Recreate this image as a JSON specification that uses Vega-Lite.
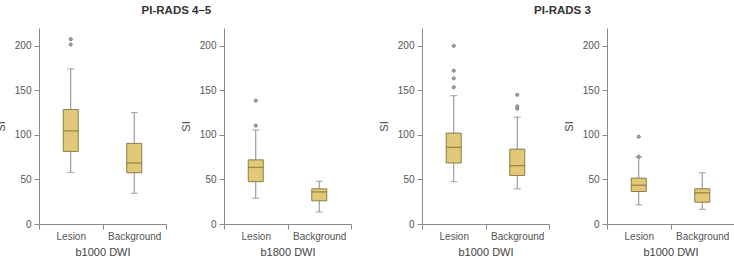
{
  "$schema": "https://vega.github.io/schema/vega-lite/v6.json",
  "padding": {"left": -5, "top": 4, "right": 0, "bottom": 0},
  "background": "white",
  "datasets": {
    "boxes": [
      {"panel": 1, "group": "Lesion", "lower": 58, "q1": 81.5, "median": 104.5, "q3": 128.5, "upper": 174},
      {"panel": 1, "group": "Background", "lower": 34.5, "q1": 57.5, "median": 68.5, "q3": 90.5, "upper": 125},
      {"panel": 2, "group": "Lesion", "lower": 29, "q1": 47.5, "median": 63.5, "q3": 72, "upper": 105.5},
      {"panel": 2, "group": "Background", "lower": 13.5, "q1": 26, "median": 36, "q3": 39.5, "upper": 48},
      {"panel": 3, "group": "Lesion", "lower": 47.5, "q1": 68.5, "median": 86, "q3": 102, "upper": 144},
      {"panel": 3, "group": "Background", "lower": 39.5, "q1": 54.5, "median": 65.5, "q3": 84, "upper": 120},
      {"panel": 4, "group": "Lesion", "lower": 21.5, "q1": 36.5, "median": 43.5, "q3": 51.5, "upper": 75},
      {"panel": 4, "group": "Background", "lower": 16.5, "q1": 24.5, "median": 35, "q3": 39.5, "upper": 57.5}
    ],
    "outliers": [
      {"panel": 1, "group": "Lesion", "SI": 201.5},
      {"panel": 1, "group": "Lesion", "SI": 207.5},
      {"panel": 2, "group": "Lesion", "SI": 110.5},
      {"panel": 2, "group": "Lesion", "SI": 138.5},
      {"panel": 3, "group": "Lesion", "SI": 153.5},
      {"panel": 3, "group": "Lesion", "SI": 163.5},
      {"panel": 3, "group": "Lesion", "SI": 172},
      {"panel": 3, "group": "Lesion", "SI": 200},
      {"panel": 3, "group": "Background", "SI": 129.5},
      {"panel": 3, "group": "Background", "SI": 132},
      {"panel": 3, "group": "Background", "SI": 145},
      {"panel": 4, "group": "Lesion", "SI": 75.5},
      {"panel": 4, "group": "Lesion", "SI": 98}
    ]
  },
  "spacing": 26,
  "hconcat": [
    {
      "title": {"text": "PI-RADS 4–5", "dx": 3},
      "spacing": 13,
      "hconcat": [
        {
          "width": 127, "height": 196,
          "layer": [
            {"data": {"name": "boxes"}, "transform": [{"filter": "datum.panel == 1"}], "mark": {"type": "rule", "color": "#8a8a8a", "strokeWidth": 1},
             "encoding": {"x": {"field": "group", "type": "nominal", "sort": ["Lesion", "Background"], "scale": {"paddingInner": 0, "paddingOuter": 0}, "axis": {"title": "b1000 DWI"}},
                          "y": {"field": "lower", "type": "quantitative", "scale": {"domain": [0, 220], "nice": false}, "axis": {"title": "SI", "values": [0, 50, 100, 150, 200]}}, "y2": {"field": "upper"}}},
            {"data": {"name": "boxes"}, "transform": [{"filter": "datum.panel == 1"}], "mark": {"type": "tick", "color": "#7a7a7a", "size": 7, "thickness": 1},
             "encoding": {"x": {"field": "group", "type": "nominal", "sort": ["Lesion", "Background"]}, "y": {"field": "lower", "type": "quantitative"}}},
            {"data": {"name": "boxes"}, "transform": [{"filter": "datum.panel == 1"}], "mark": {"type": "tick", "color": "#7a7a7a", "size": 7, "thickness": 1},
             "encoding": {"x": {"field": "group", "type": "nominal", "sort": ["Lesion", "Background"]}, "y": {"field": "upper", "type": "quantitative"}}},
            {"data": {"name": "boxes"}, "transform": [{"filter": "datum.panel == 1"}], "mark": {"type": "bar", "size": 15, "fill": "#e2c977", "stroke": "#8c7d4a", "strokeWidth": 1},
             "encoding": {"x": {"field": "group", "type": "nominal", "sort": ["Lesion", "Background"]}, "y": {"field": "q1", "type": "quantitative"}, "y2": {"field": "q3"}}},
            {"data": {"name": "boxes"}, "transform": [{"filter": "datum.panel == 1"}], "mark": {"type": "tick", "color": "#7d6a35", "size": 15, "thickness": 1.3},
             "encoding": {"x": {"field": "group", "type": "nominal", "sort": ["Lesion", "Background"]}, "y": {"field": "median", "type": "quantitative"}}},
            {"data": {"name": "outliers"}, "transform": [{"filter": "datum.panel == 1"}], "mark": {"type": "point", "filled": true, "size": 10, "fill": "#a8a8a8", "stroke": "#707070", "strokeWidth": 0.8, "opacity": 1},
             "encoding": {"x": {"field": "group", "type": "nominal", "sort": ["Lesion", "Background"]}, "y": {"field": "SI", "type": "quantitative"}}}
          ]
        },
        {
          "width": 127, "height": 196,
          "layer": [
            {"data": {"name": "boxes"}, "transform": [{"filter": "datum.panel == 2"}], "mark": {"type": "rule", "color": "#8a8a8a", "strokeWidth": 1},
             "encoding": {"x": {"field": "group", "type": "nominal", "sort": ["Lesion", "Background"], "scale": {"paddingInner": 0, "paddingOuter": 0}, "axis": {"title": "b1800 DWI"}},
                          "y": {"field": "lower", "type": "quantitative", "scale": {"domain": [0, 220], "nice": false}, "axis": {"title": "SI", "values": [0, 50, 100, 150, 200]}}, "y2": {"field": "upper"}}},
            {"data": {"name": "boxes"}, "transform": [{"filter": "datum.panel == 2"}], "mark": {"type": "tick", "color": "#7a7a7a", "size": 7, "thickness": 1},
             "encoding": {"x": {"field": "group", "type": "nominal", "sort": ["Lesion", "Background"]}, "y": {"field": "lower", "type": "quantitative"}}},
            {"data": {"name": "boxes"}, "transform": [{"filter": "datum.panel == 2"}], "mark": {"type": "tick", "color": "#7a7a7a", "size": 7, "thickness": 1},
             "encoding": {"x": {"field": "group", "type": "nominal", "sort": ["Lesion", "Background"]}, "y": {"field": "upper", "type": "quantitative"}}},
            {"data": {"name": "boxes"}, "transform": [{"filter": "datum.panel == 2"}], "mark": {"type": "bar", "size": 15, "fill": "#e2c977", "stroke": "#8c7d4a", "strokeWidth": 1},
             "encoding": {"x": {"field": "group", "type": "nominal", "sort": ["Lesion", "Background"]}, "y": {"field": "q1", "type": "quantitative"}, "y2": {"field": "q3"}}},
            {"data": {"name": "boxes"}, "transform": [{"filter": "datum.panel == 2"}], "mark": {"type": "tick", "color": "#7d6a35", "size": 15, "thickness": 1.3},
             "encoding": {"x": {"field": "group", "type": "nominal", "sort": ["Lesion", "Background"]}, "y": {"field": "median", "type": "quantitative"}}},
            {"data": {"name": "outliers"}, "transform": [{"filter": "datum.panel == 2"}], "mark": {"type": "point", "filled": true, "size": 10, "fill": "#a8a8a8", "stroke": "#707070", "strokeWidth": 0.8, "opacity": 1},
             "encoding": {"x": {"field": "group", "type": "nominal", "sort": ["Lesion", "Background"]}, "y": {"field": "SI", "type": "quantitative"}}}
          ]
        }
      ]
    },
    {
      "title": {"text": "PI-RADS 3", "dx": 6},
      "spacing": 13,
      "hconcat": [
        {
          "width": 127, "height": 196,
          "layer": [
            {"data": {"name": "boxes"}, "transform": [{"filter": "datum.panel == 3"}], "mark": {"type": "rule", "color": "#8a8a8a", "strokeWidth": 1},
             "encoding": {"x": {"field": "group", "type": "nominal", "sort": ["Lesion", "Background"], "scale": {"paddingInner": 0, "paddingOuter": 0}, "axis": {"title": "b1000 DWI"}},
                          "y": {"field": "lower", "type": "quantitative", "scale": {"domain": [0, 220], "nice": false}, "axis": {"title": "SI", "values": [0, 50, 100, 150, 200]}}, "y2": {"field": "upper"}}},
            {"data": {"name": "boxes"}, "transform": [{"filter": "datum.panel == 3"}], "mark": {"type": "tick", "color": "#7a7a7a", "size": 7, "thickness": 1},
             "encoding": {"x": {"field": "group", "type": "nominal", "sort": ["Lesion", "Background"]}, "y": {"field": "lower", "type": "quantitative"}}},
            {"data": {"name": "boxes"}, "transform": [{"filter": "datum.panel == 3"}], "mark": {"type": "tick", "color": "#7a7a7a", "size": 7, "thickness": 1},
             "encoding": {"x": {"field": "group", "type": "nominal", "sort": ["Lesion", "Background"]}, "y": {"field": "upper", "type": "quantitative"}}},
            {"data": {"name": "boxes"}, "transform": [{"filter": "datum.panel == 3"}], "mark": {"type": "bar", "size": 15, "fill": "#e2c977", "stroke": "#8c7d4a", "strokeWidth": 1},
             "encoding": {"x": {"field": "group", "type": "nominal", "sort": ["Lesion", "Background"]}, "y": {"field": "q1", "type": "quantitative"}, "y2": {"field": "q3"}}},
            {"data": {"name": "boxes"}, "transform": [{"filter": "datum.panel == 3"}], "mark": {"type": "tick", "color": "#7d6a35", "size": 15, "thickness": 1.3},
             "encoding": {"x": {"field": "group", "type": "nominal", "sort": ["Lesion", "Background"]}, "y": {"field": "median", "type": "quantitative"}}},
            {"data": {"name": "outliers"}, "transform": [{"filter": "datum.panel == 3"}], "mark": {"type": "point", "filled": true, "size": 10, "fill": "#a8a8a8", "stroke": "#707070", "strokeWidth": 0.8, "opacity": 1},
             "encoding": {"x": {"field": "group", "type": "nominal", "sort": ["Lesion", "Background"]}, "y": {"field": "SI", "type": "quantitative"}}}
          ]
        },
        {
          "width": 127, "height": 196,
          "layer": [
            {"data": {"name": "boxes"}, "transform": [{"filter": "datum.panel == 4"}], "mark": {"type": "rule", "color": "#8a8a8a", "strokeWidth": 1},
             "encoding": {"x": {"field": "group", "type": "nominal", "sort": ["Lesion", "Background"], "scale": {"paddingInner": 0, "paddingOuter": 0}, "axis": {"title": "b1000 DWI"}},
                          "y": {"field": "lower", "type": "quantitative", "scale": {"domain": [0, 220], "nice": false}, "axis": {"title": "SI", "values": [0, 50, 100, 150, 200]}}, "y2": {"field": "upper"}}},
            {"data": {"name": "boxes"}, "transform": [{"filter": "datum.panel == 4"}], "mark": {"type": "tick", "color": "#7a7a7a", "size": 7, "thickness": 1},
             "encoding": {"x": {"field": "group", "type": "nominal", "sort": ["Lesion", "Background"]}, "y": {"field": "lower", "type": "quantitative"}}},
            {"data": {"name": "boxes"}, "transform": [{"filter": "datum.panel == 4"}], "mark": {"type": "tick", "color": "#7a7a7a", "size": 7, "thickness": 1},
             "encoding": {"x": {"field": "group", "type": "nominal", "sort": ["Lesion", "Background"]}, "y": {"field": "upper", "type": "quantitative"}}},
            {"data": {"name": "boxes"}, "transform": [{"filter": "datum.panel == 4"}], "mark": {"type": "bar", "size": 15, "fill": "#e2c977", "stroke": "#8c7d4a", "strokeWidth": 1},
             "encoding": {"x": {"field": "group", "type": "nominal", "sort": ["Lesion", "Background"]}, "y": {"field": "q1", "type": "quantitative"}, "y2": {"field": "q3"}}},
            {"data": {"name": "boxes"}, "transform": [{"filter": "datum.panel == 4"}], "mark": {"type": "tick", "color": "#7d6a35", "size": 15, "thickness": 1.3},
             "encoding": {"x": {"field": "group", "type": "nominal", "sort": ["Lesion", "Background"]}, "y": {"field": "median", "type": "quantitative"}}},
            {"data": {"name": "outliers"}, "transform": [{"filter": "datum.panel == 4"}], "mark": {"type": "point", "filled": true, "size": 10, "fill": "#a8a8a8", "stroke": "#707070", "strokeWidth": 0.8, "opacity": 1},
             "encoding": {"x": {"field": "group", "type": "nominal", "sort": ["Lesion", "Background"]}, "y": {"field": "SI", "type": "quantitative"}}}
          ]
        }
      ]
    }
  ],
  "config": {
    "font": "Liberation Sans",
    "view": {"stroke": null},
    "axis": {"grid": false, "domainColor": "#8a8a8a", "tickColor": "#8a8a8a", "labelColor": "#555555", "titleColor": "#444444", "labelFontSize": 10, "titleFontSize": 11, "titleFontWeight": "normal", "tickSize": 5, "labelPadding": 3},
    "axisY": {"titlePadding": 8},
    "axisX": {"labelAngle": 0, "tickBand": "extent", "labelPadding": 2, "titlePadding": 5},
    "title": {"fontSize": 11.5, "fontWeight": "bold", "color": "#333333", "anchor": "middle", "offset": 12}
  }
}
